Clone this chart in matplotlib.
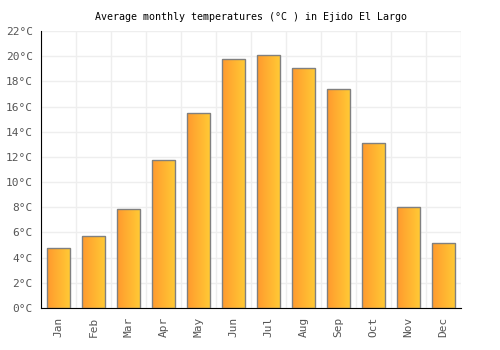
import numpy as np
import matplotlib.pyplot as plt
from matplotlib.colors import LinearSegmentedColormap

# données
mois = ["Jan", "Feb", "Mar", "Apr", "May", "Jun", "Jul", "Aug", "Sep", "Oct", "Nov", "Dec"]
temperatures = [4.8, 5.7, 7.9, 11.8, 15.5, 19.8, 20.1, 19.1, 17.4, 13.1, 8.0, 5.2]
y_ticks = list(range(0, 23, 2))

plt.rcParams['font.family'] = ['DejaVu Sans Mono']

fig = plt.figure(figsize=(5, 3.5), dpi=100)
ax = fig.add_axes([0.082, 0.12, 0.84, 0.791])

x = np.arange(len(mois))
bars = ax.bar(x, temperatures, width=0.66, color='none', edgecolor='#808080', linewidth=1.0, zorder=3)

cmap = LinearSegmentedColormap.from_list('orange', ['#ff9a2e', '#ffcb35'])
grad = np.linspace(0, 1, 64).reshape(1, -1)
for b in bars:
    bx, by = b.get_x(), b.get_y()
    w, h = b.get_width(), b.get_height()
    im = ax.imshow(grad, cmap=cmap, aspect='auto', extent=[bx, bx + w, by, by + h], zorder=2)
    im.set_clip_path(b)

ax.set_xlim(-0.5, len(mois) - 0.5)
ax.set_ylim(0, 22)
ax.set_xticks(x)
ax.set_xticklabels(mois, rotation=90, fontsize=8, color='#555555')
ax.set_yticks(y_ticks)
ax.set_yticklabels([f"{t}°C" for t in y_ticks], fontsize=8, color='#555555')

ax.set_xticks(np.arange(-0.5, len(mois), 1), minor=True)
ax.grid(True, which='minor', axis='x', color='#eeeeee', lw=1, zorder=0)
ax.grid(True, which='major', axis='y', color='#eeeeee', lw=1, zorder=0)
ax.tick_params(which='minor', length=0)
ax.tick_params(which='major', length=0, pad=6)

ax.spines['top'].set_visible(False)
ax.spines['right'].set_visible(False)
ax.spines['left'].set_color('black')
ax.spines['bottom'].set_color('black')

ax.set_title("Average monthly temperatures (°C ) in Ejido El Largo", fontsize=7.2, pad=8)

fig.savefig("out.png", dpi=100)
